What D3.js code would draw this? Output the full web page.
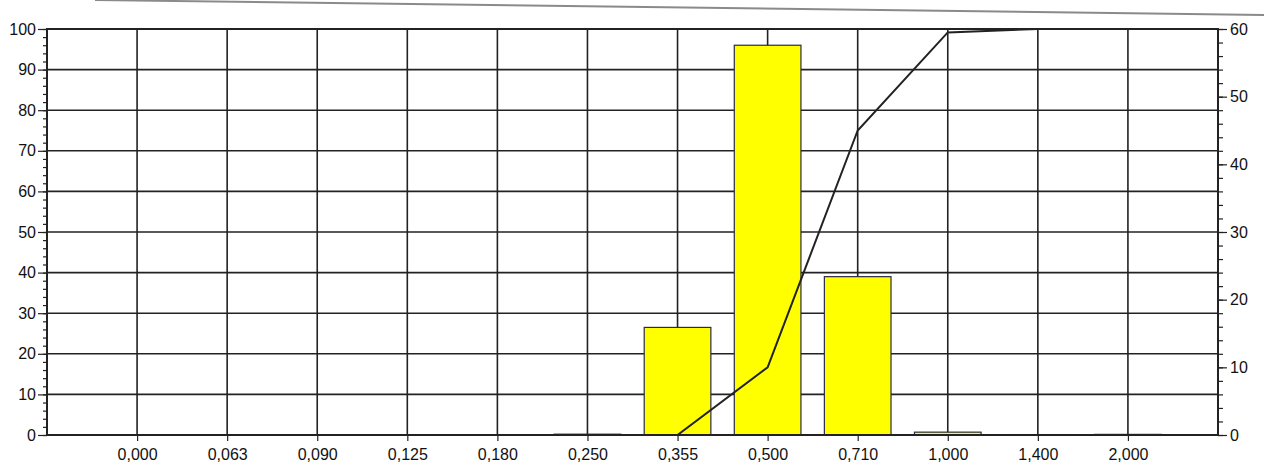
<!DOCTYPE html>
<html>
<head>
<meta charset="utf-8">
<script src="https://cdn.jsdelivr.net/npm/d3@7"></script>
<style>
  body { margin: 0; background: #fff; }
  svg { display: block; font-family: "Liberation Sans", Arial, sans-serif; }
</style>
</head>
<body>
<div id="chart"></div>
<script>
// Sieve sizes (mm)
const sizes = ["0,000", "0,063", "0,090", "0,125", "0,180", "0,250", "0,355", "0,500", "0,710", "1,000", "1,400", "2,000"];
// Retained fraction (left axis)
const retained = [0, 0, 0, 0, 0, 0.2, 26.5, 96, 39, 0.7, 0.1, 0.15];
// Cumulative curve (right axis)
const cumulative = [0, 0, 0, 0, 0, 0, 0, 10, 45, 59.5, 60, 60];
// Tick values
const leftTicks = d3.range(0, 101, 10);
const rightTicks = d3.range(0, 61, 10);

const W = 1264, H = 473;
const margin = { top: 29, right: 46, bottom: 38, left: 47 },
    width = W - margin.left - margin.right,
    height = H - margin.top - margin.bottom;

const root = d3.select("#chart")
    .append("svg")
    .attr("width", W)
    .attr("height", H);

// scanned page edge at the top
root.append("line")
    .attr("x1", 95).attr("y1", 0)
    .attr("x2", W).attr("y2", 15)
    .attr("stroke", "#8a8a8a")
    .attr("stroke-width", 2);

const svg = root.append("g")
    .attr("transform", `translate(${margin.left}, ${margin.top})`);

// Scales
const x = d3.scalePoint()
    .domain(sizes)
    .range([0, width])
    .padding(1);

const y = d3.scaleLinear()
    .domain([0, 100])
    .range([height, 0]);

const y2 = d3.scaleLinear()
    .domain([0, 60])
    .range([height, 0]);

const barW = x.step() * 0.74;

// Horizontal grid
svg.append("g")
    .selectAll("line")
    .data(leftTicks)
    .join("line")
    .attr("x1", 0)
    .attr("x2", width)
    .attr("y1", d => y(d))
    .attr("y2", d => y(d))
    .attr("stroke", "#222")
    .attr("stroke-width", 1.6);

// Vertical grid
svg.append("g")
    .selectAll("line")
    .data(sizes)
    .join("line")
    .attr("x1", d => x(d))
    .attr("x2", d => x(d))
    .attr("y1", 0)
    .attr("y2", height)
    .attr("stroke", "#222")
    .attr("stroke-width", 1.6);

// Bars
svg.append("g")
    .selectAll("rect")
    .data(sizes.map((s, i) => ({ s, v: retained[i] })).filter(d => d.v > 0))
    .join("rect")
    .attr("x", d => x(d.s) - barW / 2)
    .attr("y", d => y(d.v))
    .attr("width", barW)
    .attr("height", d => height - y(d.v))
    .attr("fill", "#ffff00")
    .attr("stroke", "#2a2a4a")
    .attr("stroke-width", 1.2);

// Cumulative line
svg.append("path")
    .datum(sizes.map((s, i) => ({ s, v: cumulative[i] })))
    .attr("fill", "none")
    .attr("stroke", "#222")
    .attr("stroke-width", 2)
    .attr("d", d3.line().x(d => x(d.s)).y(d => y2(d.v)));

// Frame
svg.append("rect")
    .attr("width", width)
    .attr("height", height)
    .attr("fill", "none")
    .attr("stroke", "#222")
    .attr("stroke-width", 2);

function styleAxis(g) {
    g.select(".domain").remove();
    g.selectAll(".tick line").attr("stroke", "#222").attr("stroke-width", 1.2);
    g.selectAll(".tick text").attr("fill", "#111").style("font-size", "16px");
}

// Left axis (minor + major)
svg.append("g")
    .call(d3.axisLeft(y).tickValues(d3.range(0, 101, 2)).tickSize(4).tickFormat(""))
    .call(styleAxis);
svg.append("g")
    .call(d3.axisLeft(y).tickValues(leftTicks).tickSize(9).tickPadding(2))
    .call(styleAxis);

// Right axis (minor + major)
svg.append("g")
    .attr("transform", `translate(${width}, 0)`)
    .call(d3.axisRight(y2).tickValues(d3.range(0, 61, 2)).tickSize(5).tickFormat(""))
    .call(styleAxis);
svg.append("g")
    .attr("transform", `translate(${width}, 0)`)
    .call(d3.axisRight(y2).tickValues(rightTicks).tickSize(9).tickPadding(3))
    .call(styleAxis);

// Bottom axis
svg.append("g")
    .attr("transform", `translate(0, ${height})`)
    .call(d3.axisBottom(x).tickSize(6).tickPadding(8))
    .call(styleAxis);
</script>
</body>
</html>
